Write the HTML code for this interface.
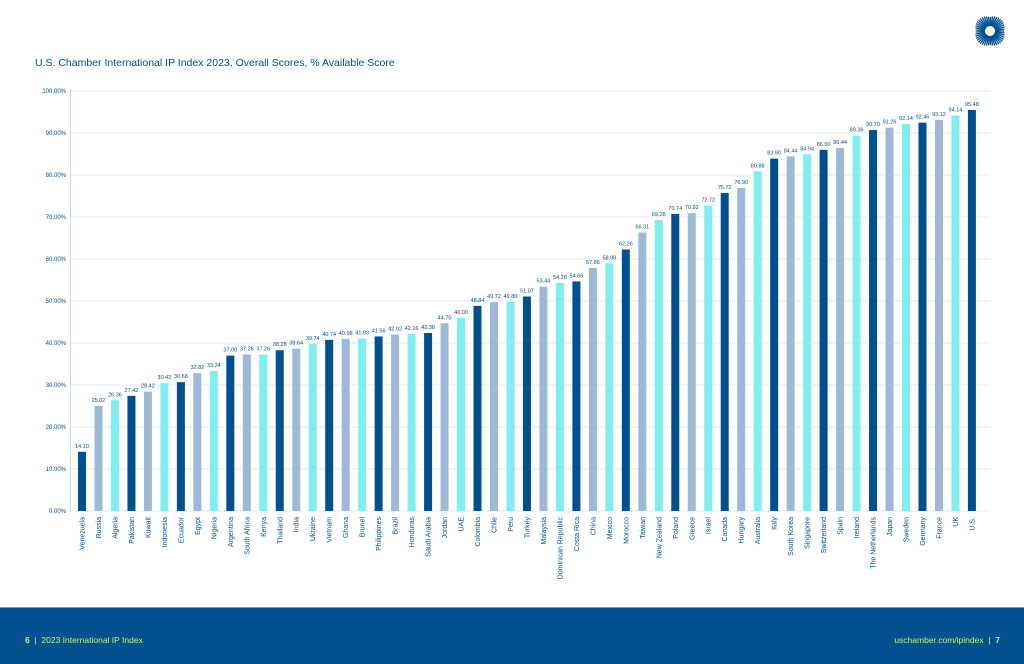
<!DOCTYPE html>
<html><head><meta charset="utf-8">
<style>
html,body{margin:0;padding:0;background:#fff;width:1024px;height:663px;overflow:hidden;font-family:"Liberation Sans",sans-serif}
#footer{position:absolute;left:0;top:607px;width:1024px;height:56px;background:#02508f;border-top:1px solid #6d92bb}
#footer span{position:absolute;top:27px;font-size:8.5px;color:#c6f56a}
</style></head><body>
<svg id="chart" width="1024" height="607" style="position:absolute;left:0;top:0">
<text x="35" y="66" font-size="10.5" fill="#02508f" font-family="Liberation Sans">U.S. Chamber International IP Index 2023, Overall Scores, % Available Score</text>
<g id="logo" transform="translate(990,31)"></g>
<g id="grid"></g><g id="bars"></g><g id="labels"></g>
</svg>
<div id="footer">
<span style="left:25px"><b>6</b> &nbsp;| &nbsp;2023 International IP Index</span>
<span style="right:24px">uschamber.com/ipindex &nbsp;| &nbsp;<b>7</b></span>
</div>
<script>
const categories=["Venezuela","Russia","Algeria","Pakistan","Kuwait","Indonesia","Ecuador","Egypt","Nigeria","Argentina","South Africa","Kenya","Thailand","India","Ukraine","Vietnam","Ghana","Brunei","Philippines","Brazil","Honduras","Saudi Arabia","Jordan","UAE","Colombia","Chile","Peru","Turkey","Malaysia","Dominican Republic","Costa Rica","China","Mexico","Morocco","Taiwan","New Zealand","Poland","Greece","Israel","Canada","Hungary","Australia","Italy","South Korea","Singapore","Switzerland","Spain","Ireland","The Netherlands","Japan","Sweden","Germany","France","UK","U.S."];
const values=[14.10,25.02,26.36,27.42,28.42,30.42,30.68,32.82,33.34,37.00,37.26,37.26,38.28,38.64,39.74,40.74,40.98,41.08,41.56,42.02,42.16,42.38,44.70,46.00,48.84,49.72,49.80,51.07,53.44,54.28,54.66,57.86,58.98,62.26,66.31,69.28,70.74,70.92,72.72,75.72,76.90,80.88,83.90,84.44,84.94,86.00,86.44,89.36,90.70,91.26,92.14,92.46,93.12,94.14,95.48];
const yTicks=[0,10,20,30,40,50,60,70,80,90,100];
const colors=["#02508f","#9db9d5","#80edf1"];
const NS="http://www.w3.org/2000/svg";
const y0=511,y1=91,x0=82,pitch=16.48;
const yS=v=>y0-(v/100)*(y0-y1);
const xS=i=>x0+i*pitch;
function mk(tag,attrs,parent){const e=document.createElementNS(NS,tag);for(const k in attrs)e.setAttribute(k,attrs[k]);parent.appendChild(e);return e;}
const grid=document.getElementById('grid'),bars=document.getElementById('bars'),labels=document.getElementById('labels');
yTicks.forEach(t=>{
  const l=mk('line',{x1:70,x2:990,y1:yS(t),y2:yS(t),stroke:'#e3e9f0','stroke-width':1},grid);
  
  
  const tx=mk('text',{x:66,y:yS(t)+2,'font-size':6,fill:'#02508f','text-anchor':'end'},grid);
  tx.textContent=t.toFixed(2)+'%';
  
  
});
const ax=mk('line',{x1:70.5,x2:70.5,y1:89,y2:512,stroke:'#c9d6e4','stroke-width':1},grid);


values.forEach((v,i)=>{
  const cx=xS(i);
  const r=mk('rect',{x:cx-4,y:yS(v),width:8,height:y0-yS(v),fill:colors[i%3]},bars);
  
  
  const vt=mk('text',{x:cx,y:yS(v)-4,'font-size':5.5,fill:'#02508f','text-anchor':'middle'},labels);
  vt.textContent=v.toFixed(2);
  
  
  const ct=mk('text',{x:0,y:0,'font-size':7,fill:'#02508f','text-anchor':'end',transform:`translate(${cx+2.5},517) rotate(-90)`},labels);
  ct.textContent=categories[i];
  
  
});
// logo
const logo=document.getElementById('logo');
for(let a=0;a<360;a+=8){
  const rad=a*Math.PI/180;
  const ln=mk('line',{x1:5*Math.cos(rad),y1:5*Math.sin(rad),x2:14*Math.cos(rad)*(1+0.15*Math.abs(Math.sin(2*rad))),y2:14*Math.sin(rad)*(1+0.15*Math.abs(Math.sin(2*rad))),stroke:'#02508f','stroke-width':1.3},logo);
  
  
}
</script>
</body></html>
